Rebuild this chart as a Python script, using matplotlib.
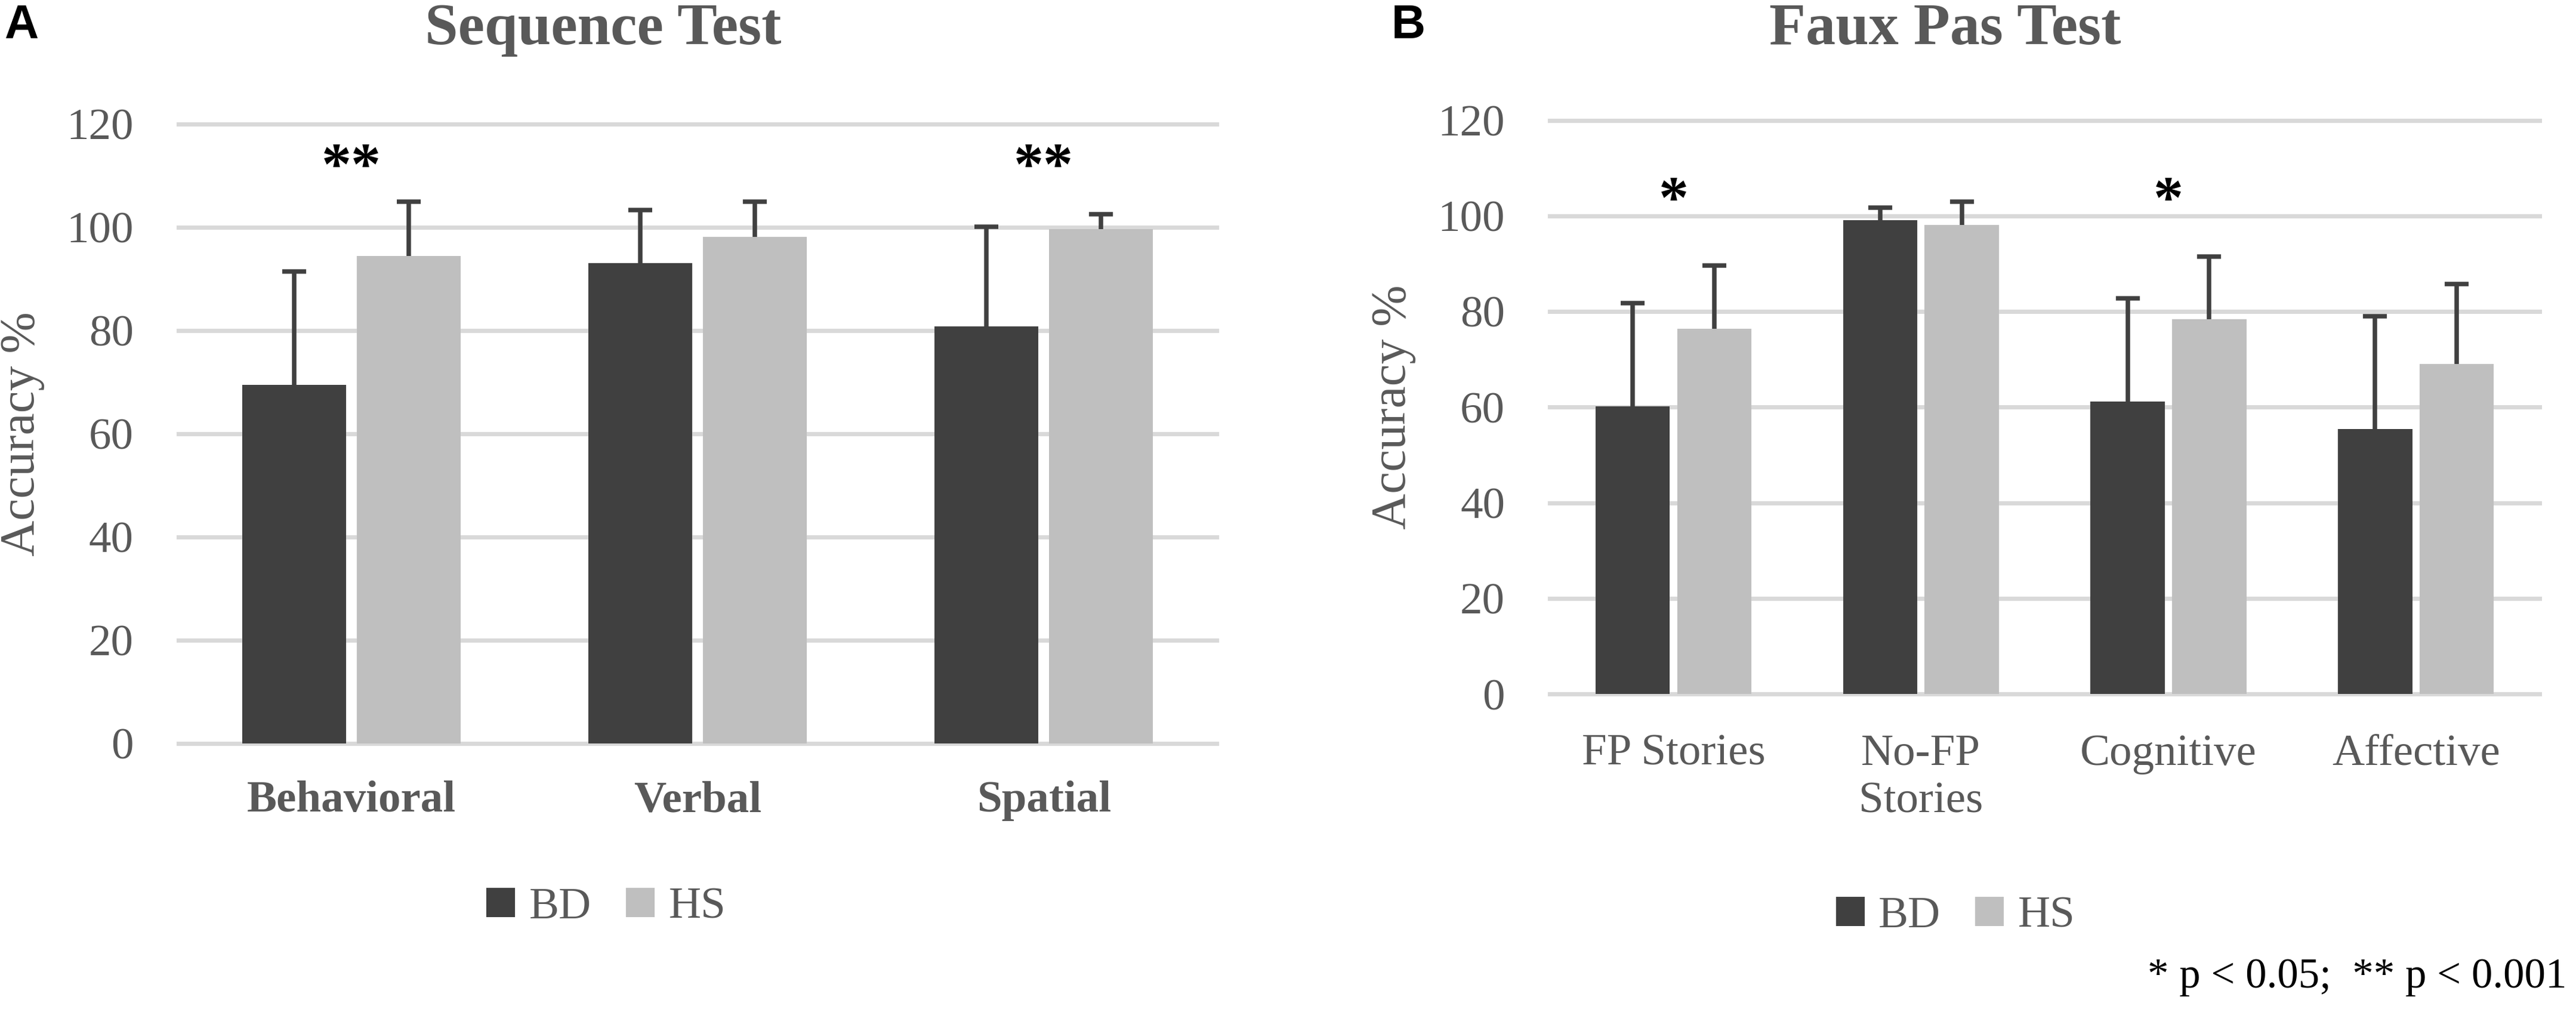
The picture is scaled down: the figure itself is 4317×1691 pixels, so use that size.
import numpy as np
import matplotlib
matplotlib.use('Agg')
import matplotlib.pyplot as plt

plt.rcParams['font.family'] = ['Liberation Serif', 'DejaVu Serif']

# Panel A - Sequence Test
seq_labels = ['Behavioral', 'Verbal', 'Spatial']
seq_bd = [69.5, 93.1, 80.8]
seq_bd_sd = [21.9, 10.2, 19.3]
seq_hs = [94.5, 98.2, 99.6]
seq_hs_sd = [10.5, 6.8, 2.9]
seq_stars = ['**', '', '**']

# Panel B - Faux Pas Test
fp_labels = ['FP Stories', 'No-FP\nStories', 'Cognitive', 'Affective']
fp_bd = [60.2, 99.1, 61.2, 55.4]
fp_bd_sd = [21.6, 2.6, 21.6, 23.6]
fp_hs = [76.4, 98.1, 78.4, 69.0]
fp_hs_sd = [13.2, 4.9, 13.1, 16.8]
fp_stars = ['*', '', '*', '']

yticks = [0, 20, 40, 60, 80, 100, 120]

DARK = '#404040'
LIGHT = '#bfbfbf'
TXT = '#595959'
GRID = '#d9d9d9'

fig = plt.figure(figsize=(4317 / 300, 1691 / 300), dpi=300)
ax1 = fig.add_axes([0.06926, 0.2632, 0.4031, 0.6138])
ax2 = fig.add_axes([0.6016, 0.3120, 0.3843, 0.5688])


def draw_panel(ax, labels, bd, bd_sd, hs, hs_sd, stars, star_y, bold_labels, xpad):
    x = np.arange(len(labels))
    w = 0.30
    off = 0.165
    err_kw = dict(ecolor=DARK, elinewidth=1.8, capsize=4.8, capthick=1.8)
    for pos, vals, sd, col, lab in [(x - off, bd, bd_sd, DARK, 'BD'),
                                    (x + off, hs, hs_sd, LIGHT, 'HS')]:
        bars = ax.bar(pos, vals, w, color=col, label=lab, zorder=2,
                      yerr=[np.zeros(len(vals)), sd], error_kw=err_kw)
        # one-sided error bars: hide the lower caps
        caps = bars.errorbar.lines[1]
        caps[0].set_visible(False)
    for xi, s in zip(x, stars):
        if s:
            ax.text(xi, star_y, s, ha='center', va='baseline', fontsize=24,
                    fontweight='bold', color='black')
    ax.set_xlim(-0.5, len(labels) - 0.5)
    ax.set_ylim(0, 120)
    ax.set_yticks(yticks)
    ax.set_xticks(x)
    ax.set_xticklabels(labels, fontsize=18, color=TXT,
                       fontweight='bold' if bold_labels else 'normal',
                       linespacing=1.25)
    ax.tick_params(axis='y', length=0, pad=18, labelsize=18, labelcolor=TXT)
    ax.tick_params(axis='x', length=0, pad=xpad)
    ax.grid(axis='y', color=GRID, linewidth=1.7, zorder=0)
    for gl in ax.yaxis.get_gridlines():
        gl.set_clip_on(False)
    ax.set_axisbelow(True)
    for sp in ax.spines.values():
        sp.set_visible(False)
    ax.set_ylabel('Accuracy %', fontsize=20, color=TXT)


draw_panel(ax1, seq_labels, seq_bd, seq_bd_sd, seq_hs, seq_hs_sd,
           seq_stars, 108.6, True, 15)
draw_panel(ax2, fp_labels, fp_bd, fp_bd_sd, fp_hs, fp_hs_sd,
           fp_stars, 99.9, False, 16)
ax1.yaxis.set_label_coords(-0.129, 0.5)
ax2.yaxis.set_label_coords(-0.135, 0.5)

# titles and panel letters
fig.text(0.2342, 0.9562, 'Sequence Test', ha='center', va='baseline',
         fontsize=24, fontweight='bold', color=TXT)
fig.text(0.7552, 0.9562, 'Faux Pas Test', ha='center', va='baseline',
         fontsize=24, fontweight='bold', color=TXT)
fig.text(0.0016, 0.9622, 'A', ha='left', va='baseline', fontsize=19,
         fontweight='bold', family='Liberation Sans')
fig.text(0.5402, 0.9622, 'B', ha='left', va='baseline', fontsize=19,
         fontweight='bold', family='Liberation Sans')

# legends
leg_kw = dict(loc='center', ncol=2, frameon=False, fontsize=18,
              handlelength=0.64, handleheight=0.64, handletextpad=0.31,
              columnspacing=0.78, labelcolor=TXT)
h, l = ax1.get_legend_handles_labels()
fig.legend(h, l, bbox_to_anchor=(0.2353, 0.1005), **leg_kw)
h, l = ax2.get_legend_handles_labels()
fig.legend(h, l, bbox_to_anchor=(0.7591, 0.0917), **leg_kw)

fig.text(0.9965, 0.0213, '* p < 0.05;  ** p < 0.001', ha='right',
         va='baseline', fontsize=17, color='black')

fig.savefig('out.png', dpi=300)
